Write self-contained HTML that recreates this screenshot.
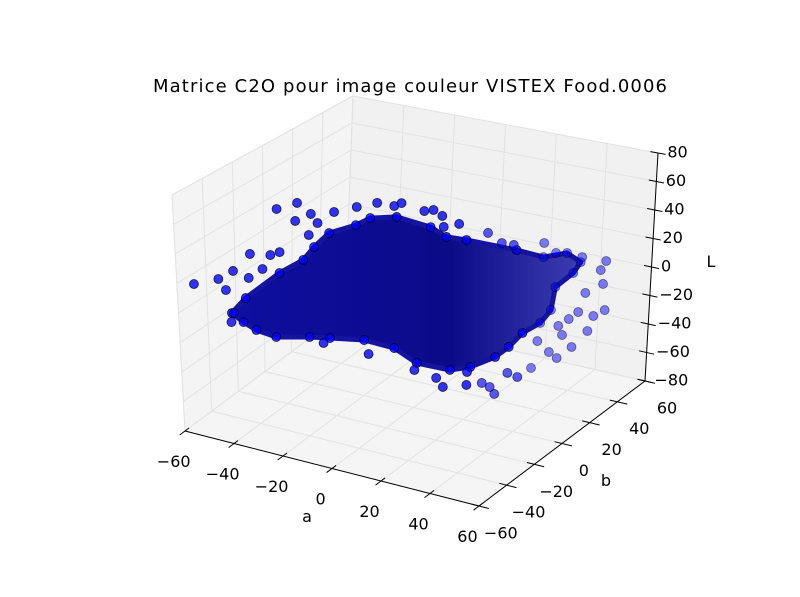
<!DOCTYPE html>
<html><head><meta charset="utf-8"><style>
body{margin:0;background:#fff;}
svg{display:block;font-family:"DejaVu Sans","Liberation Sans",sans-serif;}
</style></head><body>
<svg id="chart" width="800" height="597" viewBox="0 0 800 597" xmlns="http://www.w3.org/2000/svg">
<defs>
<linearGradient id="coreGrad" gradientUnits="userSpaceOnUse" x1="240" y1="0" x2="590" y2="0">
<stop offset="0" stop-color="#0e0ea0"/>
<stop offset="0.6" stop-color="#0b0b88"/>
<stop offset="1" stop-color="#4040b4"/>
</linearGradient>
</defs>
<rect width="800" height="597" fill="#fff"/>
<text x="410" y="92" font-size="18" text-anchor="middle" textLength="514">Matrice C2O pour image couleur VISTEX Food.0006</text>
<g id="panes"></g><g id="grid"></g><g id="axes"></g><g id="core"></g><g id="pts"></g>
</svg>
<script>
// axis ticks
const aTicks=[-60,-40,-20,0,20,40,60];
const bTicks=[-60,-40,-20,0,20,40,60];
const LTicks=[-80,-60,-40,-20,0,20,40,60,80];
// scatter outliers (a, b, L)
const ptA=[-90.2,-80.4,-77.1,-74.6,-68.1,-58.2,-50.0,-50.4,-44.2,-41.3,-34.8,-68.1,-59.8,-56.1,-62.7,-44.6,-73.4,-74.2,-36.4,-17.9,-25.7,-17.5,-10.5,-7.6,1.8,5.5,9.2,16.2,28.1,33.9,38.8,51.1,10.0,56.1,66.8,76.6,74.6,75.8,68.8,77.0,66.3,72.5,62.6,58.5,70.4,64.3,60.2,55.2,58.5,50.3,48.3,42.9,38.8,33.9,28.6,22.4,12.9,10.0,1.0,22.4,31.9];
const ptB=ptA.map(()=>0);
const ptL=[-31.5,-23.5,-29.9,-15.1,-17.2,36.7,44.7,31.6,39.4,34.2,45.0,0,2.9,6.7,-8.4,24.1,-44.8,-51.6,-49.7,-49.3,52.7,59.3,60.2,63.6,62.1,64.5,61.9,59.3,58.2,53.6,54.4,61.3,54.4,56.4,58.2,59.8,52.4,43.0,33.4,24.8,18.6,18.5,11.9,5.1,6.8,-7.4,-0.6,-15.1,-17.9,-9.4,-29.6,-38.5,-37.4,-54.7,-49.2,-53.4,-59.1,-53.9,-52.3,-44.1,-50.6];
// dense core boundary (a, L at b = 0)
const coreA=[-74.2,-68.9,-55.7,-46.3,-42.2,-36.4,-25.7,-20.0,-9.3,4.7,11.3,19.5,40.0,51.1,60.6,66.3,63.5,56.5,55.2,51.1,44.1,38.8,33.5,23.6,15.4,1.8,-7.6,-20.0,-33.9,-42.2,-55.7,-63.9,-69.3];
const coreL=[-45.1,-32.0,-8.1,5.5,16.6,29.2,39.7,47.3,52.9,51.9,47.8,49.3,51.3,51.2,58.4,54.4,45.3,32.1,15.1,3.9,-6.4,-18.8,-28.4,-40.0,-45.8,-46.9,-40.4,-40.2,-45.0,-48.0,-54.0,-52.7,-49.4];

const NS="http://www.w3.org/2000/svg";
const C={"000":[185,431],"100":[479,506],"110":[645,381],"010":[345,312],
         "001":[172,195],"101":[490,262],"111":[658,153],"011":[353,96]};
function B(a,b,L){
  const u=(a+60)/120,v=(b+60)/120,w=(L+80)/160;
  let x=0,y=0;
  for(const i of [0,1])for(const j of [0,1])for(const k of [0,1]){
    const wt=(i?u:1-u)*(j?v:1-v)*(k?w:1-w);
    const c=C[""+i+j+k];x+=wt*c[0];y+=wt*c[1];
  }
  return [x,y];
}
function P(a,b,L){return [415.6+2.433*a+1.3*b+0.07*L, 296.5+0.625*a-1.025*b-1.394*L];}
function mk(tag,parent,attrs){const e=document.createElementNS(NS,tag);for(const k in attrs)e.setAttribute(k,attrs[k]);document.getElementById(parent).appendChild(e);return e;}
function poly(pts){return pts.map(p=>p[0].toFixed(1)+","+p[1].toFixed(1)).join(" ");}

let e;
e=mk("polygon","panes",{points:poly([B(-60,-60,-80),B(-60,60,-80),B(-60,60,80),B(-60,-60,80)]),fill:"#f4f4f4",stroke:"#ececec"});


e=mk("polygon","panes",{points:poly([B(-60,60,-80),B(60,60,-80),B(60,60,80),B(-60,60,80)]),fill:"#f1f1f1",stroke:"#ececec"});


e=mk("polygon","panes",{points:poly([B(-60,-60,-80),B(60,-60,-80),B(60,60,-80),B(-60,60,-80)]),fill:"#f5f5f5",stroke:"#ececec"});



function gl(p,q){const l=mk("line","grid",{x1:p[0],y1:p[1],x2:q[0],y2:q[1],stroke:"#e2e2e2","stroke-width":1});

}
aTicks.forEach(a=>{gl(B(a,60,-80),B(a,60,80));gl(B(a,-60,-80),B(a,60,-80));});
bTicks.forEach(b=>{gl(B(-60,b,-80),B(-60,b,80));gl(B(-60,b,-80),B(60,b,-80));});
LTicks.forEach(L=>{gl(B(-60,-60,L),B(-60,60,L));gl(B(-60,60,L),B(60,60,L));});

function ln(p,q,name){const l=mk("line","axes",{x1:p[0],y1:p[1],x2:q[0],y2:q[1],stroke:"#000","stroke-width":1});

}
function tx(x,y,s,anchor,name){const t=mk("text","axes",{x:x,y:y,"font-size":16,"text-anchor":anchor,fill:"#000"});t.textContent=s;

}
const lab=v=>v<0?"\u2212"+(-v):""+v;
ln(B(-60,-60,-80),B(60,-60,-80),"a-axis-line");
ln(B(60,-60,-80),B(60,60,-80),"b-axis-line");
ln(B(60,60,-80),B(60,60,80),"L-axis-line");
aTicks.forEach(a=>{const p=B(a,-57,-80),q=B(a,-64,-80);ln(p,q,"a-tick");tx(q[0]-6,q[1]+32,lab(a),"middle","a-tick-label");});
bTicks.forEach(b=>{const p=B(57,b,-80),q=B(64,b,-80);ln(p,q,"b-tick");tx(q[0]+12,q[1]+30,lab(b),"middle","b-tick-label");});
LTicks.forEach(L=>{const p=B(57,60,L),q=B(63,60,L);ln(p,q,"L-tick");tx(p[0]+17,p[1]+6,lab(L),"start","L-tick-label");});
tx(307,522,"a","middle","a-axis-title");
tx(606,486,"b","middle","b-axis-title");
tx(711,267,"L","middle","L-axis-title");

const hull=coreA.map((a,i)=>P(a,0,coreL[i]));
e=mk("polygon","core",{points:poly(hull),fill:"url(#coreGrad)",stroke:"#1414a0","stroke-width":5,"stroke-linejoin":"round"});


coreA.forEach((a,i)=>{const p=P(a,0,coreL[i]);const al=a>45?0.5:0.8;
 const c=mk("circle","pts",{cx:p[0],cy:p[1],r:4.5,fill:"#0000ff","fill-opacity":al,stroke:"#000","stroke-opacity":al,"stroke-width":0.8});
 
 });
ptA.forEach((a,i)=>{const p=P(a,ptB[i],ptL[i]);const al=a>45?0.5:(a>25?0.65:0.8);
 const c=mk("circle","pts",{cx:p[0],cy:p[1],r:4.5,fill:"#0000ff","fill-opacity":al,stroke:"#000","stroke-opacity":al,"stroke-width":0.8});
 
 });
</script>
</body></html>
